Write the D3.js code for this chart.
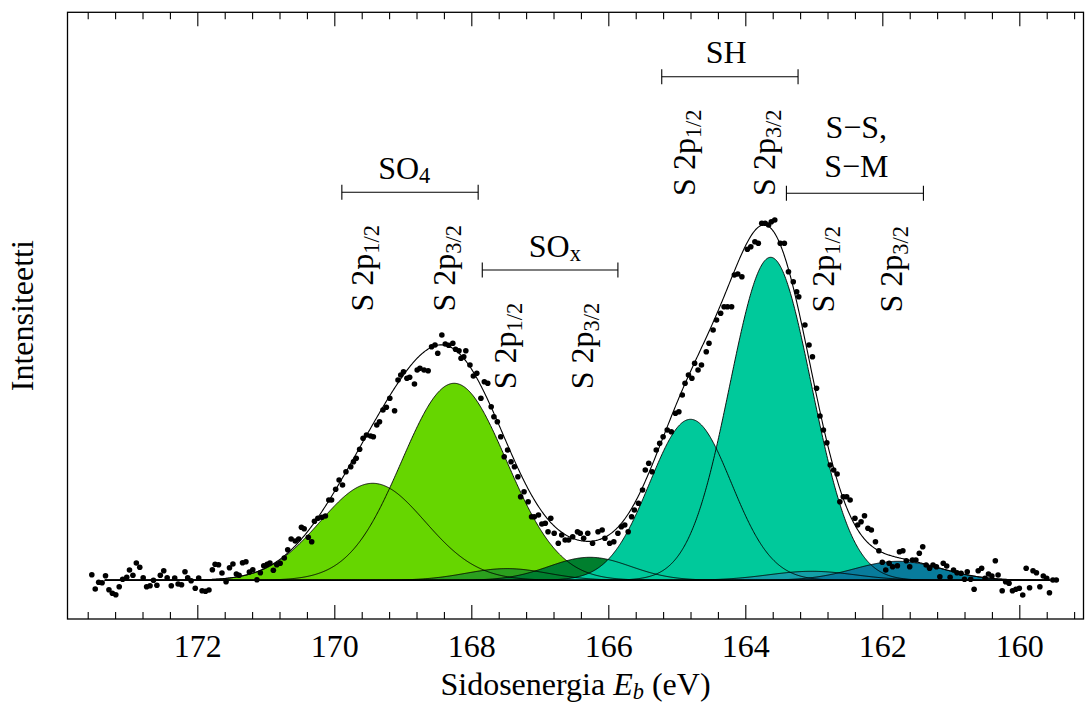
<!DOCTYPE html>
<html>
<head>
<meta charset="utf-8">
<script src="https://cdn.jsdelivr.net/npm/d3@7"></script>
<style>
  body { margin: 0; background: #fff; }
  svg text { font-family: "Liberation Serif", "DejaVu Serif", serif; fill: #000; }
</style>
</head>
<body>
<svg id="chart" width="1086" height="707"></svg>
<script>
// mitatut pisteet: sidosenergia (eV) ja intensiteetti (mv. yksikkö, tausta = 0)
const energy = [
  173.54,173.49,173.44,173.39,173.34,173.29,173.24,173.19,173.14,173.09,173.03,172.99,172.94,172.89,172.84,
  172.79,172.74,172.69,172.64,172.59,172.54,172.49,172.44,172.38,172.33,172.28,172.23,172.18,172.14,172.09,
  172.03,171.98,171.93,171.88,171.83,171.78,171.74,171.69,171.64,171.58,171.53,171.48,171.43,171.39,171.34,
  171.29,171.24,171.19,171.13,171.08,171.03,170.98,170.94,170.89,170.84,170.79,170.73,170.68,170.63,170.57,
  170.52,170.48,170.44,170.38,170.33,170.29,170.24,170.18,170.13,170.08,170.04,169.98,169.93,169.88,169.83,
  169.76,169.72,169.68,169.63,169.58,169.53,169.47,169.43,169.38,169.34,169.29,169.24,169.19,169.12,169.07,
  169.03,168.99,168.94,168.90,168.83,168.79,168.75,168.69,168.63,168.58,168.53,168.49,168.43,168.38,168.33,
  168.27,168.23,168.18,168.15,168.11,168.08,168.02,167.97,167.92,167.86,167.81,167.76,167.71,167.67,167.62,
  167.57,167.52,167.47,167.42,167.37,167.32,167.28,167.23,167.17,167.12,167.08,167.02,166.97,166.92,166.88,
  166.84,166.79,166.73,166.68,166.63,166.58,166.52,166.45,166.41,166.36,166.30,166.23,166.15,166.09,166.05,
  165.98,165.92,165.86,165.81,165.76,165.71,165.66,165.62,165.56,165.50,165.46,165.41,165.36,165.30,165.25,
  165.20,165.14,165.08,165.02,164.97,164.92,164.88,164.83,164.78,164.74,164.69,164.64,164.57,164.53,164.47,
  164.42,164.36,164.31,164.26,164.20,164.16,164.11,164.05,163.97,163.92,163.86,163.81,163.76,163.71,163.66,
  163.62,163.57,163.49,163.43,163.37,163.30,163.25,163.22,163.13,163.07,163.02,162.96,162.91,162.86,162.81,
  162.76,162.71,162.66,162.62,162.57,162.52,162.47,162.40,162.36,162.31,162.26,162.21,162.16,162.10,162.05,
  162.00,161.95,161.90,161.85,161.78,161.75,161.70,161.65,161.60,161.56,161.51,161.46,161.41,161.36,161.31,
  161.26,161.21,161.16,161.11,161.06,161.01,160.96,160.91,160.85,160.80,160.76,160.71,160.66,160.60,160.55,
  160.50,160.45,160.40,160.35,160.31,160.25,160.20,160.15,160.10,160.05,160.00,159.95,159.90,159.85,159.80,
  159.75,159.70,159.65,159.60,159.56,159.51,159.46
];
const intensity = [
  5.6,-8.7,-2,-2.4,4.6,-9.4,-13,-14.4,-6.4,1,3,10.3,5,17.3,13,
  2.6,-6.4,-5.4,0,-5,5,9.6,2.6,-5.4,2.3,-3.7,-4.4,8.6,2.6,-0.4,
  -8,2.3,-10.4,-11,-9.7,10.6,16,15.6,7.3,-1.4,12.6,16.3,6.3,5,17.6,
  18.6,8.3,10.6,0.6,7.6,14.6,16,17.3,10,15.6,17,22.3,30.6,41.3,39.3,
  41.3,53,51.6,43,38.6,59,62,63,64.3,80.3,80.3,91,100.3,95.3,108.6,
  113.6,118.6,122,131,142,145.3,144.3,143.6,155.3,158.6,170.3,173,182,169.6,200.3,
  205.3,208.6,202,203,196.3,210.3,212,210.3,209.6,233.6,235.3,227,245.3,236.3,235,
  237,231,229.6,222,223.6,229.6,215.3,204.3,207,182,198.6,197,173.6,163.6,158.6,
  143.6,123.6,130.3,118.6,113.6,103.6,83.6,88.6,78.6,63.6,63.6,65.3,56.3,57,48.6,
  62,47,37,45.3,40.3,40.3,43.6,48.6,47,42,47,37,48.6,50.3,42,
  37,38.6,47,53.6,55.3,48.6,63.6,70.3,77,90.3,110.3,117,108.6,130.3,137,
  143.6,150.3,148.6,167,168.6,185.3,197,205.3,202,217,210.3,215.3,228.6,237,250.3,
  260.3,267,273.6,273.6,273.6,305.3,306.3,303.6,331,333.6,338.6,337,357,357,355.3,
  358.6,360.3,337,337,308.6,298.6,288.6,283.6,255.3,235.3,223.6,192,164.3,150.3,137.6,
  115.3,110.3,106.3,78.6,83.6,83.6,80.3,62,55.3,58.6,64.6,52,50.3,38.6,29.6,
  18,10.3,17,13.6,14.6,28.6,29.6,19.6,13.6,20.3,20.3,27,33.6,15.3,12,
  15.3,13.6,3.6,17,14.3,3,10.3,7.6,7,1,8.6,1,-9,9.6,12,
  2,6.3,4.3,19.6,5.3,-10.4,-1.4,-3,-10.4,-9,-8,-14.7,12,-7.4,9.6,
  7.6,-6.4,4.3,2,-12.4,0.3,0.3
];

// sovitetut komponentit (gaussit)
const peakGroup  = ["SO4", "SO4", "SOx", "SOx", "SH", "SH", "SS", "SS"];
const peakState  = ["1/2", "3/2", "1/2", "3/2", "1/2", "3/2", "1/2", "3/2"];
const peakCenter = [169.44, 168.25, 167.48, 166.27, 164.80, 163.63, 163.03, 161.77];
const peakHeight = [97, 197, 11.7, 23, 161, 323, 9, 19];
const peakFwhm   = [1.8, 1.8, 1.4, 1.4, 1.4, 1.4, 1.5, 1.5];
const fitRange   = [173.35, 159.55];

// merkinnät
const labelEnergy = [169.435, 168.238, 167.347, 166.223, 164.735, 163.567, 162.705, 161.717];
const groupRange  = [[169.89, 167.90], [167.84, 165.86], [165.22, 163.23], [163.40, 161.40]];
const groupLabelE = [168.98, 166.78, 164.28, 162.38];
const majorTicks  = [172, 170, 168, 166, 164, 162, 160];
const minorTicks  = [173.6, 173.2, 172.8, 172.4, 171.6, 171.2, 170.8, 170.4, 169.6, 169.2, 168.8, 168.4,
  167.6, 167.2, 166.8, 166.4, 165.6, 165.2, 164.8, 164.4, 163.6, 163.2, 162.8, 162.4, 161.6, 161.2,
  160.8, 160.4, 159.6, 159.2];

const peakColor = ["#66d600", "#66d600", "#2ba01e", "#007f2e", "#00c99b", "#00c99b", "#14a0a8", "#087c9c"];
const bracketY = [192.3, 270, 76.7, 193.3];
const FS = 32;
const FONT = '"Liberation Serif", "DejaVu Serif", serif';

const svg = d3.select("#chart");
const pLeft = 67.5, pRight = 1083.5, pTop = 12.3, pBottom = 619;

const x = d3.scaleLinear().domain([173.895, 159.063]).range([pLeft, pRight]);
const y = d3.scaleLinear().domain([-38.7, 568]).range([pBottom, pTop]);

const gauss = (e, i) => peakHeight[i] * Math.exp(-4 * Math.LN2 * Math.pow((e - peakCenter[i]) / peakFwhm[i], 2));

const grid = d3.range(fitRange[1], fitRange[0] + 0.0001, 0.01);

// komponenttien täytöt ensin, sitten ääriviivat
const area = d3.area().x(d => x(d[0])).y0(y(0)).y1(d => y(d[1]));
const line = d3.line().x(d => x(d[0])).y(d => y(d[1]));

const comps = peakCenter.map((c, i) => grid.map(e => [e, gauss(e, i)]));

svg.append("g").selectAll("path").data(comps).join("path")
  .attr("d", area)
  .attr("fill", (d, i) => peakColor[i]);

svg.append("g").selectAll("path").data(comps).join("path")
  .attr("d", line)
  .attr("fill", "none")
  .attr("stroke", "#000")
  .attr("stroke-width", 0.9);

// tausta
svg.append("line")
  .attr("x1", x(fitRange[0])).attr("x2", x(fitRange[1]))
  .attr("y1", y(0)).attr("y2", y(0))
  .attr("stroke", "#000").attr("stroke-width", 1.6);

// summakäyrä
const envelope = grid.map(e => [e, d3.sum(peakCenter, (c, i) => gauss(e, i))]);
svg.append("path")
  .attr("d", line(envelope))
  .attr("fill", "none")
  .attr("stroke", "#000")
  .attr("stroke-width", 1.1);

// mittauspisteet
svg.append("g").selectAll("circle").data(energy).join("circle")
  .attr("cx", d => x(d))
  .attr("cy", (d, i) => y(intensity[i]))
  .attr("r", 2.8)
  .attr("fill", "#000");

// akselit
const axB = svg.append("g").attr("transform", `translate(0,${pBottom})`)
  .call(d3.axisBottom(x).tickValues(majorTicks).tickSize(-14).tickPadding(15).tickFormat(d3.format("d")));
const axBm = svg.append("g").attr("transform", `translate(0,${pBottom})`)
  .call(d3.axisBottom(x).tickValues(minorTicks).tickSize(-7).tickFormat(""));
const axT = svg.append("g").attr("transform", `translate(0,${pTop})`)
  .call(d3.axisTop(x).tickValues(majorTicks).tickSize(-14).tickFormat(""));
const axTm = svg.append("g").attr("transform", `translate(0,${pTop})`)
  .call(d3.axisTop(x).tickValues(minorTicks).tickSize(-7).tickFormat(""));

[axB, axBm, axT, axTm].forEach(a => {
  a.attr("font-family", FONT);
  a.select(".domain").remove();
  a.selectAll(".tick line").attr("stroke", "#000").attr("stroke-width", 1.1);
});
axB.selectAll(".tick text")
  .style("font-family", FONT)
  .style("font-size", FS + "px");

svg.append("rect")
  .attr("x", pLeft).attr("y", pTop)
  .attr("width", pRight - pLeft).attr("height", pBottom - pTop)
  .attr("fill", "none").attr("stroke", "#000").attr("stroke-width", 1.3);

// akselien otsikot
const xl = svg.append("text")
  .attr("x", (pLeft + pRight) / 2).attr("y", 695)
  .attr("text-anchor", "middle")
  .style("font-size", FS + "px");
xl.append("tspan").text("Sidosenergia ");
xl.append("tspan").style("font-style", "italic").text("E");
xl.append("tspan").style("font-style", "italic").style("font-size", "70%").attr("dy", 4).text("b");
xl.append("tspan").attr("dy", -4).text(" (eV)");

svg.append("text")
  .attr("transform", `translate(33,${(pTop + pBottom) / 2}) rotate(-90)`)
  .attr("text-anchor", "middle")
  .style("font-size", FS + "px")
  .text("Intensiteetti");

// piikkien nimet (pystyssä)
labelEnergy.forEach((e, i) => {
  const g = Math.floor(i / 2);
  const t = svg.append("text")
    .attr("transform", `translate(${x(e)},${bracketY[g] + 76}) rotate(-90)`)
    .attr("text-anchor", "middle")
    .style("font-size", FS + "px");
  t.append("tspan").text("S 2p");
  t.append("tspan").style("font-size", "70%").attr("dy", 6).text(peakState[i]);
});

// ryhmien hakasulkeet
groupRange.forEach((r, i) => {
  const g = svg.append("g").attr("stroke", "#000").attr("stroke-width", 1.1);
  const yy = bracketY[i];
  g.append("line").attr("x1", x(r[0])).attr("x2", x(r[1])).attr("y1", yy).attr("y2", yy);
  g.append("line").attr("x1", x(r[0])).attr("x2", x(r[0])).attr("y1", yy - 7.5).attr("y2", yy + 7.5);
  g.append("line").attr("x1", x(r[1])).attr("x2", x(r[1])).attr("y1", yy - 7.5).attr("y2", yy + 7.5);
});

function groupText(i, dyBase) {
  return svg.append("text")
    .attr("x", x(groupLabelE[i]))
    .attr("y", bracketY[i] + dyBase)
    .attr("text-anchor", "middle")
    .style("font-size", FS + "px");
}
const so4 = groupText(0, -13);
so4.append("tspan").text("SO");
so4.append("tspan").style("font-size", "70%").attr("dy", 4).text("4");
const sox = groupText(1, -13.3);
sox.append("tspan").text("SO");
sox.append("tspan").style("font-size", "70%").attr("dy", 4).text("x");
groupText(2, -13.5).text("SH");
groupText(3, -55.3).text("S\u2212S,");
groupText(3, -16.3).text("S\u2212M");
</script>
</body>
</html>
